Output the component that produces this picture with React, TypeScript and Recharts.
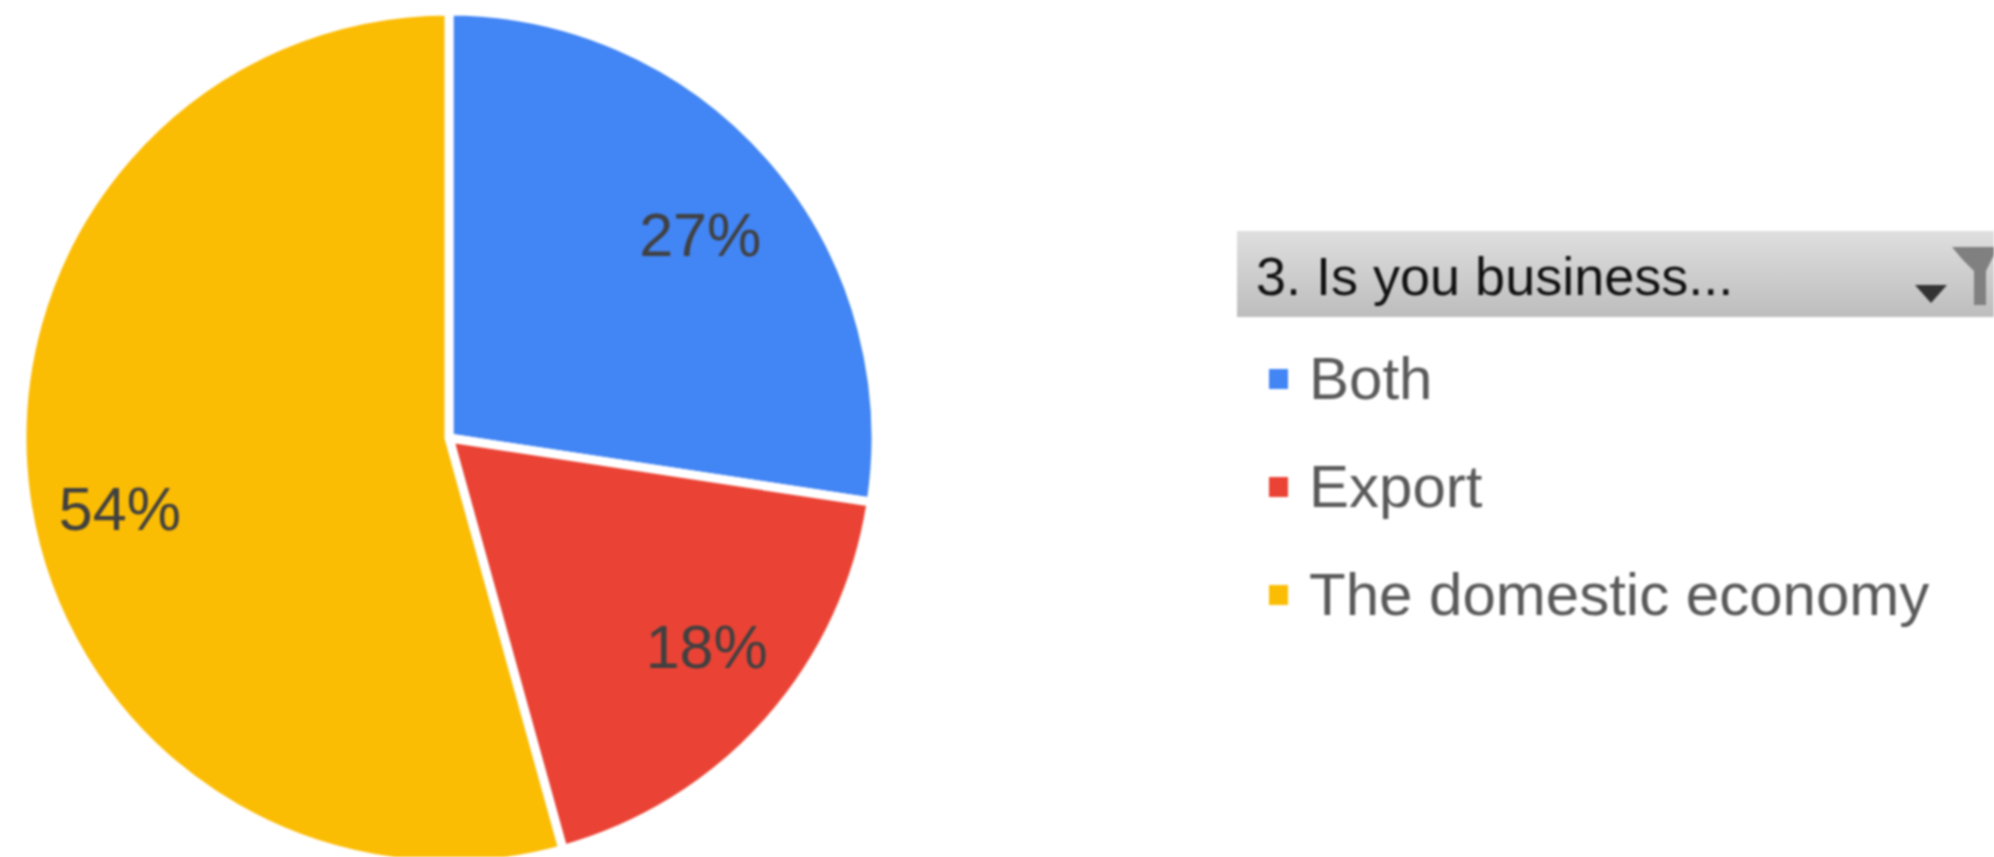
import React from 'react';
import { PieChart, Pie, Cell, Legend } from 'recharts';

const categories = ['Both', 'Export', 'The domestic economy'];
const shares = [27.4, 18.3, 54.3];
const percentLabels = ['27%', '18%', '54%'];
const sliceColors = ['#4285f4', '#ea4335', '#fbbc04'];
const filterTitle = '3. Is you business...';

const chartData = categories.map((name, i) => ({ name, value: shares[i] }));

const FONT = '"Liberation Sans", Arial, sans-serif';
const RAD = Math.PI / 180;

// google-style labels don't sit exactly on the mid angle, so nudge each one
const labelNudgeX = [-3, 7, 3];
const labelNudgeY = [15, -13, 26];

const renderLabel = (props: any) => {
  const { cx, cy, midAngle, outerRadius, index } = props;
  const r = outerRadius * 0.785;
  const x = cx + r * Math.cos(-midAngle * RAD) + labelNudgeX[index];
  const y = cy + r * Math.sin(-midAngle * RAD) + labelNudgeY[index];
  return (
    <text x={x} y={y} fill="#404040" fontSize={61} fontFamily={FONT} textAnchor="middle" dominantBaseline="central">
      {percentLabels[index]}
    </text>
  );
};

const LegendList = ({ payload }: any) => (
  <div>
    {(payload || []).map((entry: any) => (
      <div key={entry.value} style={{ height: 108, display: 'flex', alignItems: 'center' }}>
        <span style={{ width: 19, height: 20, background: entry.color, marginRight: 21, flex: 'none' }} />
        <span style={{ fontFamily: FONT, fontSize: 60, color: '#595959', whiteSpace: 'nowrap', position: 'relative', top: -1 }}>{entry.value}</span>
      </div>
    ))}
  </div>
);

const App: React.FC = () => {
  return (
    <div style={{ position: 'absolute', left: 0, top: 0, width: 1994, height: 857, overflow: 'hidden', background: '#fff', filter: 'blur(0.8px)' }}>
      <PieChart width={1994} height={857} margin={{ top: 0, right: 0, bottom: 0, left: 0 }}>
        <Pie
          data={chartData}
          dataKey="value"
          nameKey="name"
          cx={449}
          cy={438}
          outerRadius={427}
          startAngle={90}
          endAngle={-270}
          stroke="#ffffff"
          strokeWidth={9}
          label={renderLabel}
          labelLine={false}
          isAnimationActive={false}
        >
          {chartData.map((d, i) => (
            <Cell key={d.name} fill={sliceColors[i]} />
          ))}
        </Pie>
        <Legend
          layout="vertical"
          content={<LegendList />}
          wrapperStyle={{ left: 1269, top: 325, width: 725, bottom: 'auto', right: 'auto' }}
        />
      </PieChart>
      <div
        style={{
          position: 'absolute',
          left: 1237,
          top: 231,
          width: 757,
          height: 86,
          background: 'linear-gradient(#dfdfdf, #bdbdbd)',
          fontFamily: FONT,
          fontSize: 54,
          lineHeight: '90px',
          color: '#111',
          paddingLeft: 19,
          boxSizing: 'border-box',
          whiteSpace: 'nowrap',
        }}
      >
        {filterTitle}
        <svg width={80} height={62} style={{ position: 'absolute', left: 677, top: 14 }}>
          <polygon points="1,40 33,40 17,58" fill="#333" />
          <polygon points="38,2 80,2 80,10 72,26 72,60 60,60 60,26 48,14" fill="#808080" />
        </svg>
      </div>
    </div>
  );
};

export default App;
